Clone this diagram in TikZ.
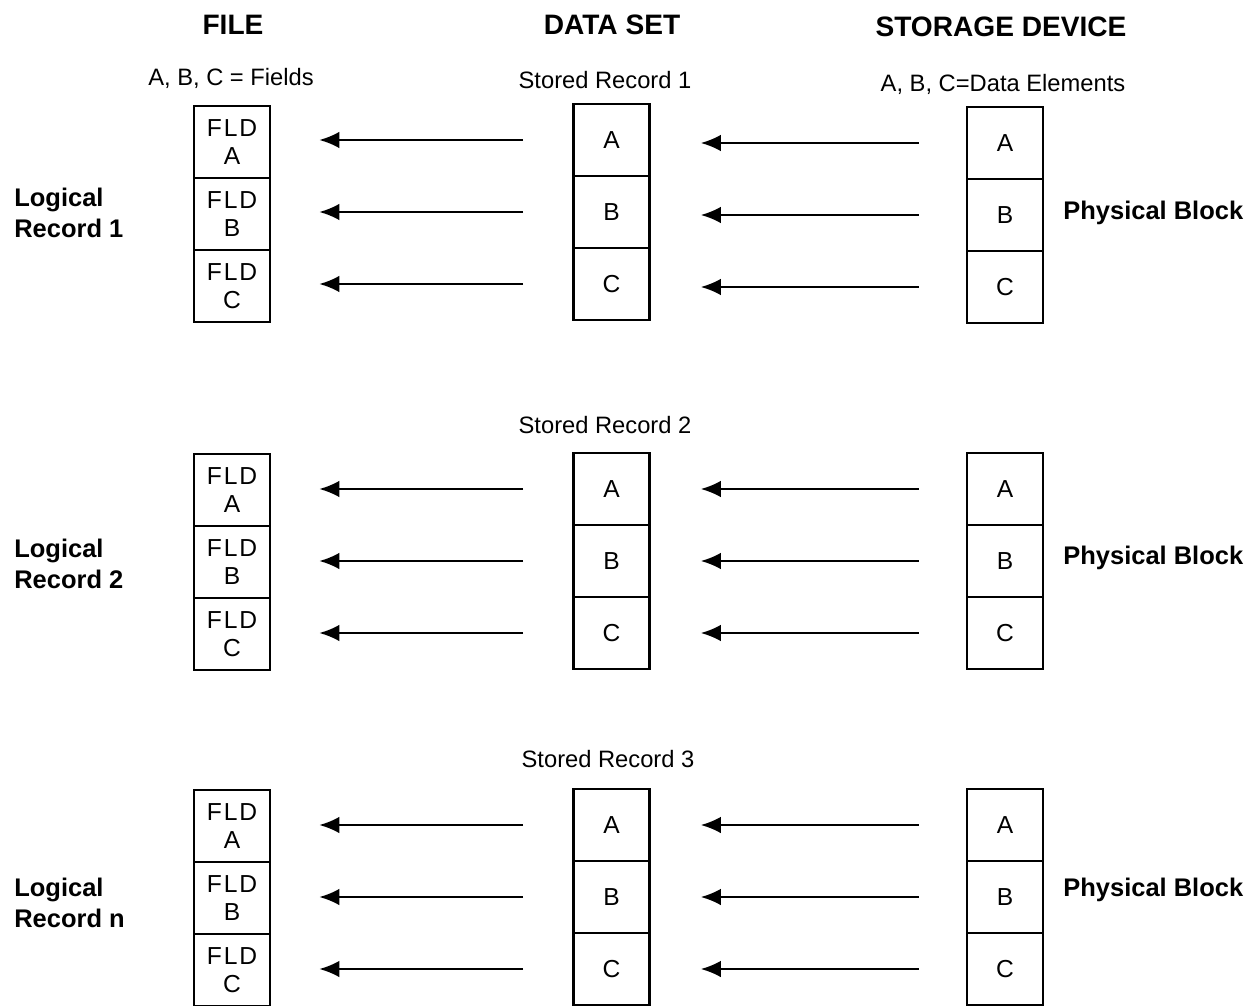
\documentclass[tikz,border=0pt]{standalone}
\usepackage{fontspec}
\setmainfont{Liberation Sans}
\usetikzlibrary{arrows.meta}
\newcommand\fldtxt{{\addfontfeature{LetterSpace=8}FLD}}

\begin{document}
\begin{tikzpicture}[x=0.02cm, y=-0.02cm,
  cell/.style={draw, line width=1.5pt, minimum width=1.52cm, minimum height=1.44cm, inner sep=0pt, align=center, font=\fontsize{14}{16}\selectfont},
  head/.style={font=\fontsize{16}{19}\selectfont\bfseries},
  sub/.style={font=\fontsize{13.5}{16}\selectfont},
  side/.style={anchor=west, inner sep=0pt, align=left, font=\fontsize{14.5}{17.5}\selectfont\bfseries},
  flow/.style={-{Latex[length=4mm,width=3.3mm]}, line width=1.2pt}
]
  \useasboundingbox (0,0) rectangle (1253,1006);

  % column headings
  \node[head] (hfile) at (233,25) {FILE};
  \node[head] (hdata) at (612,25) {DATA SET};
  \node[head] (hdev) at (1001,27) {STORAGE DEVICE};
  \node[sub] (fields) at (231,78) {A, B, C = Fields};
  \node[sub] (elems) at (1003,84) {A, B, C=Data Elements};

  % record 1
  \node[sub] (sr1) at (605,80) {Stored Record 1};
  \node[side] (lr1) at (14,213) {Logical\\Record 1};
  \node[side] (pb1) at (1063,213) {Physical Block};
  \node[cell] (f1a) at (232,142) {\fldtxt\\A};
  \node[cell] (f1b) at (232,214) {\fldtxt\\B};
  \node[cell] (f1c) at (232,286) {\fldtxt\\C};
  \node[cell] (d1a) at (611.5,140) {A};
  \node[cell] (d1b) at (611.5,212) {B};
  \node[cell] (d1c) at (611.5,284) {C};
  \node[cell] (s1a) at (1005,143) {A};
  \node[cell] (s1b) at (1005,215) {B};
  \node[cell] (s1c) at (1005,287) {C};

  % record 2
  \node[sub] (sr2) at (605,425) {Stored Record 2};
  \node[side] (lr2) at (14,564) {Logical\\Record 2};
  \node[side] (pb2) at (1063,558) {Physical Block};
  \node[cell] (f2a) at (232,490) {\fldtxt\\A};
  \node[cell] (f2b) at (232,562) {\fldtxt\\B};
  \node[cell] (f2c) at (232,634) {\fldtxt\\C};
  \node[cell] (d2a) at (611.5,489) {A};
  \node[cell] (d2b) at (611.5,561) {B};
  \node[cell] (d2c) at (611.5,633) {C};
  \node[cell] (s2a) at (1005,489) {A};
  \node[cell] (s2b) at (1005,561) {B};
  \node[cell] (s2c) at (1005,633) {C};

  % record n
  \node[sub] (sr3) at (608,759) {Stored Record 3};
  \node[side] (lr3) at (14,903) {Logical\\Record n};
  \node[side] (pb3) at (1063,890) {Physical Block};
  \node[cell] (f3a) at (232,826) {\fldtxt\\A};
  \node[cell] (f3b) at (232,898) {\fldtxt\\B};
  \node[cell] (f3c) at (232,970) {\fldtxt\\C};
  \node[cell] (d3a) at (611.5,825) {A};
  \node[cell] (d3b) at (611.5,897) {B};
  \node[cell] (d3c) at (611.5,969) {C};
  \node[cell] (s3a) at (1005,825) {A};
  \node[cell] (s3b) at (1005,897) {B};
  \node[cell] (s3c) at (1005,969) {C};

  % mapping arrows
  \foreach \r in {1a,1b,1c,2a,2b,2c,3a,3b,3c} {
    \draw[flow, shorten <=0.98cm, shorten >=0.96cm] (d\r.west) -- (d\r.west -| f\r.east);
    \draw[flow, shorten <=0.94cm, shorten >=1cm] (s\r.west) -- (s\r.west -| d\r.east);
  }
\end{tikzpicture}
\end{document}
